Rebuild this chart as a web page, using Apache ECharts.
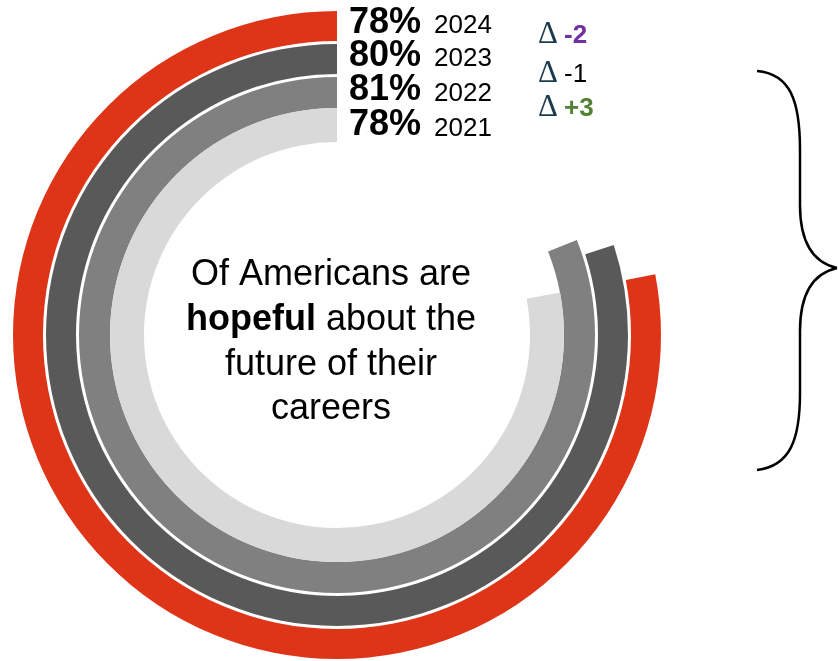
<!DOCTYPE html>
<html><head><meta charset="utf-8">
<script src="https://cdn.jsdelivr.net/npm/echarts@6/dist/echarts.min.js"></script>
<style>html,body{margin:0;padding:0;background:#fff}#c{width:838px;height:661px}</style>
</head><body><div id="c"></div>
<script>
// data
var years = ['2024', '2023', '2022', '2021'];
var values = [78, 80, 81, 78];
var deltas = [-2, -1, 3];
var colors = ['#DE3519', '#595959', '#808080', '#D9D9D9'];
var deltaColors = ['#7030A0', '#000000', '#538135'];
var deltaBold = [true, false, true];
var centerLines = ['Of Americans are', '{b|hopeful} about the', 'future of their', 'careers'];

// layout
var cx = 337, cy = 335;
var rings = [[294, 324], [261, 291], [227, 258], [193, 227]];
var pctY = [23, 56, 90, 125];
var yearY = [26, 59, 94, 129];
var deltaY = [36, 75, 109];
var textY = [275, 320, 365, 409];
var SANS = '"Liberation Sans", Arial, sans-serif';

var polar = [], angleAxis = [], radiusAxis = [], series = [], graphic = [];
years.forEach(function (y, i) {
  polar.push({center: [cx, cy], radius: rings[i]});
  angleAxis.push({polarIndex: i, type: 'value', min: 0, max: 100, startAngle: 90, clockwise: false, show: false});
  radiusAxis.push({polarIndex: i, type: 'category', data: [y], show: false});
  series.push({type: 'bar', coordinateSystem: 'polar', polarIndex: i, data: [values[i]],
    barCategoryGap: '0%', barWidth: '100%', itemStyle: {color: colors[i]}, silent: true});
  graphic.push({type: 'text', x: 349, y: pctY[i], style: {text: values[i] + '%', font: 'bold 36px ' + SANS, fill: '#000', verticalAlign: 'middle'}});
  graphic.push({type: 'text', x: 434, y: yearY[i], style: {text: y, font: '26px ' + SANS, fill: '#000', verticalAlign: 'middle'}});
});
deltas.forEach(function (d, i) {
  graphic.push({type: 'text', x: 538, y: deltaY[i] - 1, style: {text: '\u0394', font: '31px "Liberation Serif", "DejaVu Serif", serif', fill: '#1B3A4B', verticalAlign: 'middle'}});
  graphic.push({type: 'text', x: 564, y: deltaY[i], style: {text: (d > 0 ? '+' : '') + d, font: (deltaBold[i] ? 'bold ' : '') + '26px ' + SANS, fill: deltaColors[i], verticalAlign: 'middle'}});
});
centerLines.forEach(function (t, i) {
  graphic.push({type: 'text', x: 331, y: textY[i], style: {text: t, font: '36px ' + SANS, fill: '#000', align: 'center', verticalAlign: 'middle',
    rich: {b: {fontWeight: 'bold', fontSize: 36, fontFamily: SANS}}}});
});
var braceStyle = {fill: null, stroke: '#000', lineWidth: 2.5};
var curves = [
  [757, 71, 800, 150, 790, 74, 800, 100],
  [800, 205, 837, 268, 800, 245, 815, 263],
  [837, 268, 800, 331, 815, 273, 800, 291],
  [800, 393, 757, 470, 800, 440, 790, 466]
];
curves.forEach(function (c) {
  graphic.push({type: 'bezierCurve', shape: {x1: c[0], y1: c[1], x2: c[2], y2: c[3], cpx1: c[4], cpy1: c[5], cpx2: c[6], cpy2: c[7]}, style: braceStyle});
});
graphic.push({type: 'line', shape: {x1: 800, y1: 150, x2: 800, y2: 205}, style: braceStyle});
graphic.push({type: 'line', shape: {x1: 800, y1: 331, x2: 800, y2: 393}, style: braceStyle});

var chart = echarts.init(document.getElementById('c'), null, {renderer: 'canvas'});
chart.setOption({animation: false, backgroundColor: '#fff', polar: polar, angleAxis: angleAxis, radiusAxis: radiusAxis, series: series, graphic: graphic});
</script></body></html>
